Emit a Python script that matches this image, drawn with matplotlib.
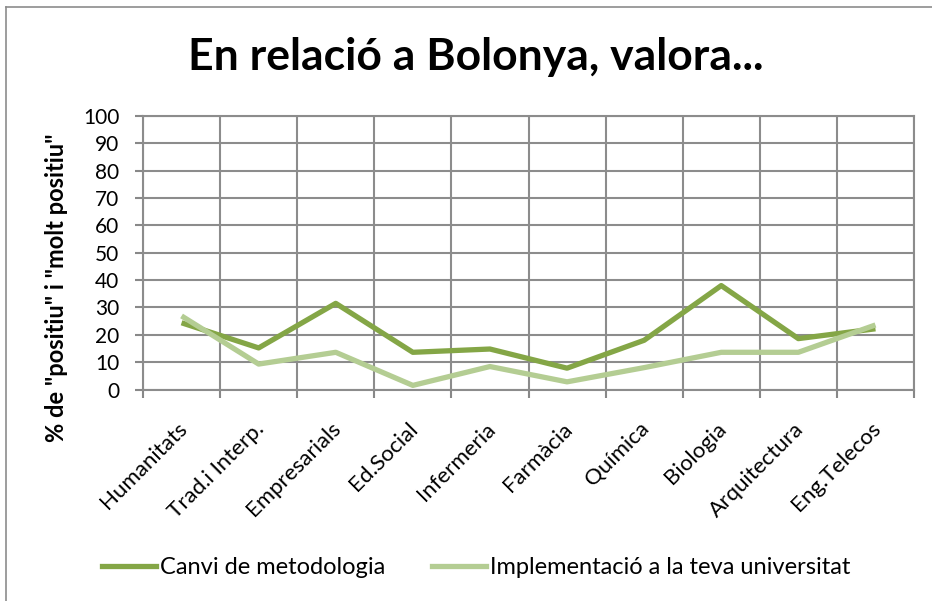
import matplotlib
matplotlib.use("Agg")
import matplotlib.pyplot as plt
import matplotlib.transforms as mtransforms
from matplotlib.lines import Line2D

categories = ["Humanitats", "Trad.i Interp.", "Empresarials", "Ed.Social", "Infermeria",
              "Farmàcia", "Química", "Biologia", "Arquitectura", "Eng.Telecos"]
canvi = [24.4, 15.2, 31.5, 13.6, 14.8, 7.8, 18.0, 38.0, 18.6, 22.2]
implementacio = [26.9, 9.3, 13.6, 1.5, 8.4, 2.8, 8.0, 13.6, 13.6, 23.6]
series_names = ["Canvi de metodologia", "Implementació a la teva universitat"]
yticks = [0, 10, 20, 30, 40, 50, 60, 70, 80, 90, 100]

plt.rcParams['font.family'] = ['Lato', 'DejaVu Sans']

W, H = 932, 601
fig = plt.figure(figsize=(W / 100, H / 100), dpi=100)
ax = fig.add_axes([143 / W, 1 - 389.5 / H, (914 - 143) / W, (389.5 - 116) / H])

x = list(range(len(categories)))
c1 = "#84A646"
c2 = "#B4CD93"
ax.plot(x, canvi, color=c1, lw=3.8, solid_capstyle='butt', zorder=3)
ax.plot(x, implementacio, color=c2, lw=3.8, solid_capstyle='butt', zorder=3)

ax.set_xlim(-0.5, len(categories) - 0.5)
ax.set_ylim(0, 100)
ax.set_yticks(yticks)
ax.set_yticklabels([str(v) for v in yticks], fontsize=15)
ax.set_xticks([i - 0.5 for i in range(len(categories) + 1)])
ax.set_xticklabels([])
ax.set_xticks(x, minor=True)
ax.set_xticklabels(categories, minor=True, rotation=45, ha='right',
                   rotation_mode='anchor', fontsize=16)
ax.tick_params(axis='x', which='minor', length=0, pad=21)
ax.tick_params(axis='x', which='major', length=6, width=1.5, color='#888888')
ax.tick_params(axis='y', length=6, width=1.5, color='#888888', pad=11)
ax.grid(True, which='major', color='#8c8c8c', lw=1.5)
ax.set_axisbelow(True)
for s in ax.spines.values():
    s.set_color('#8c8c8c')
    s.set_linewidth(1.5)

shift = mtransforms.ScaledTranslation(-5 / 100, 0, fig.dpi_scale_trans)
for lab in ax.get_xticklabels(minor=True):
    lab.set_transform(lab.get_transform() + shift)

ax.set_ylabel('% de "positiu" i "molt positiu"', fontsize=17, fontweight='bold')
ax.yaxis.set_label_coords((68 - 143) / 771, (389.5 - 287.5) / 273.5)

fig.text(476 / W, 1 - 57 / H, "En relació a Bolonya, valora...", fontsize=32,
         fontweight='bold', ha='center', va='center')

handles = [Line2D([0], [0], color=c1, lw=3.8), Line2D([0], [0], color=c2, lw=3.8)]
fig.legend(handles, series_names, loc='center', bbox_to_anchor=(476 / W, 1 - 568 / H),
           ncol=2, frameon=False, fontsize=17, handlelength=2.3, handletextpad=0.15,
           columnspacing=2.0)

# chart border (left and top visible)
fig.add_artist(Line2D([5.5 / W, 5.5 / W], [0, 1 - 7 / H], transform=fig.transFigure, color='#8c8c8c', lw=1.2))
fig.add_artist(Line2D([5.5 / W, 1], [1 - 7 / H, 1 - 7 / H], transform=fig.transFigure, color='#8c8c8c', lw=1.2))

fig.savefig("out.png", dpi=100)
